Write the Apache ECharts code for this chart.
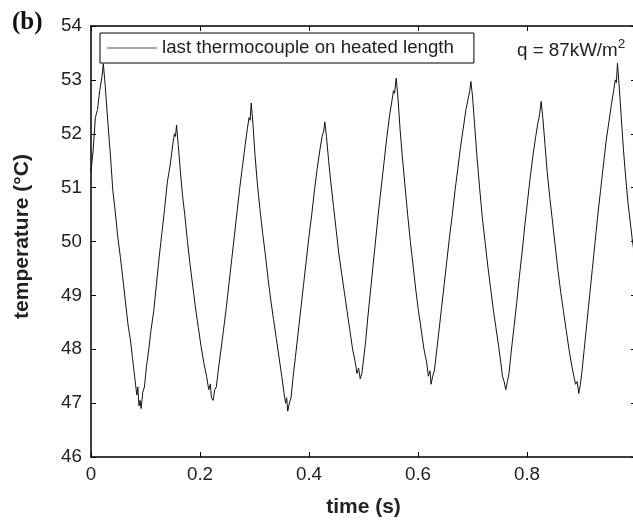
<!DOCTYPE html>
<html>
<head>
<meta charset="utf-8">
<script src="https://cdn.jsdelivr.net/npm/echarts@6/dist/echarts.min.js"></script>
<style>html,body{margin:0;padding:0;background:#fff;}#c{width:633px;height:520px;}</style>
</head>
<body>
<div id="c"></div>
<script>
// time (s)
const times = [
0,0.004,0.008,0.012,0.016,0.020,0.0226,
0.026,0.031,0.036,0.040,0.044,0.049,0.054,0.058,0.063,0.068,0.072,0.076,0.080,0.084,0.086,0.088,0.090,0.092,
0.095,0.098,0.102,0.106,0.110,0.115,0.120,0.125,0.130,0.135,0.140,0.145,0.150,0.153,0.155,0.157,
0.160,0.164,0.168,0.172,0.177,0.182,0.187,0.192,0.197,0.202,0.207,0.212,0.216,0.219,0.221,0.224,0.227,
0.230,0.234,0.238,0.243,0.248,0.253,0.258,0.263,0.268,0.273,0.278,0.283,0.287,0.290,0.292,0.294,
0.297,0.301,0.305,0.310,0.315,0.320,0.325,0.330,0.335,0.340,0.345,0.350,0.354,0.357,0.359,0.361,0.364,
0.367,0.371,0.375,0.380,0.385,0.390,0.395,0.400,0.405,0.410,0.415,0.420,0.424,0.427,0.429,
0.432,0.436,0.440,0.445,0.450,0.455,0.460,0.465,0.470,0.475,0.480,0.485,0.488,0.491,0.494,0.497,
0.500,0.504,0.508,0.513,0.518,0.523,0.528,0.533,0.538,0.543,0.548,0.552,0.555,0.557,0.560,
0.563,0.567,0.571,0.576,0.581,0.586,0.591,0.596,0.601,0.606,0.611,0.616,0.619,0.622,0.624,0.627,
0.630,0.634,0.638,0.643,0.648,0.653,0.658,0.663,0.668,0.673,0.678,0.683,0.688,0.692,0.695,0.697,
0.700,0.704,0.708,0.713,0.718,0.723,0.728,0.733,0.738,0.743,0.748,0.752,0.755,0.758,0.761,0.764,
0.767,0.771,0.776,0.781,0.786,0.791,0.796,0.801,0.806,0.811,0.816,0.820,0.823,0.826,
0.829,0.833,0.837,0.842,0.847,0.852,0.857,0.862,0.867,0.872,0.877,0.882,0.886,0.889,0.892,0.895,0.898,
0.901,0.905,0.910,0.915,0.920,0.925,0.930,0.935,0.940,0.945,0.950,0.955,0.959,0.962,0.964,0.966,
0.969,0.973,0.977,0.981,0.985,0.989,0.993,0.997,1.0
];
// temperature (°C)
const temps = [
51.3,51.7,52.3,52.45,52.8,53.05,53.3,
52.9,52.2,51.55,50.95,50.6,50.1,49.7,49.35,48.9,48.45,48.2,47.85,47.5,47.15,47.3,46.95,47.05,46.9,
47.2,47.3,47.7,48.0,48.35,48.7,49.2,49.7,50.15,50.6,51.1,51.4,51.8,52.0,51.95,52.16,
51.8,51.3,50.85,50.5,50.0,49.55,49.15,48.75,48.4,48.05,47.75,47.5,47.25,47.35,47.1,47.05,47.25,
47.3,47.65,47.95,48.35,48.75,49.2,49.65,50.1,50.55,51.0,51.4,51.8,52.1,52.3,52.25,52.57,
52.2,51.6,51.1,50.6,50.15,49.75,49.3,48.9,48.55,48.2,47.85,47.5,47.2,47.0,47.1,46.85,47.0,
47.1,47.5,47.85,48.3,48.75,49.2,49.65,50.1,50.5,50.95,51.35,51.7,51.95,52.05,52.22,
51.95,51.5,51.1,50.65,50.2,49.75,49.4,49.05,48.7,48.35,48.0,47.75,47.55,47.65,47.45,47.55,
47.8,48.15,48.6,49.1,49.6,50.1,50.6,51.05,51.5,51.95,52.35,52.6,52.8,52.75,53.03,
52.7,52.1,51.6,51.05,50.5,50.0,49.55,49.1,48.7,48.35,48.0,47.75,47.5,47.6,47.35,47.5,
47.6,47.95,48.3,48.75,49.2,49.65,50.1,50.5,50.95,51.35,51.75,52.1,52.45,52.65,52.8,52.97,
52.7,52.15,51.6,51.0,50.45,50.0,49.55,49.15,48.75,48.4,48.05,47.75,47.5,47.4,47.25,47.4,
47.55,47.95,48.4,48.85,49.35,49.8,50.3,50.75,51.2,51.6,51.95,52.2,52.35,52.6,
52.3,51.8,51.3,50.8,50.35,49.9,49.45,49.05,48.7,48.35,48.0,47.7,47.5,47.35,47.4,47.18,47.35,
47.6,48.0,48.5,49.0,49.5,50.0,50.5,50.95,51.4,51.85,52.2,52.55,52.8,53.0,52.95,53.31,
52.9,52.3,51.7,51.2,50.75,50.4,50.05,49.75,49.5
];
const xTickValues = [0, 0.2, 0.4, 0.6, 0.8, 1.0];
const yTickValues = [46, 47, 48, 49, 50, 51, 52, 53, 54];
const seriesName = 'last thermocouple on heated length';

const chart = echarts.init(document.getElementById('c'), null, {renderer: 'canvas'});
const data = times.map((t, i) => [t, temps[i]]);
const font = 'Liberation Sans, Arial, Helvetica, sans-serif';
const axisLineStyle = {color: '#000', width: 1.5};
const tick = {show: true, inside: true, length: 5, lineStyle: {color: '#000', width: 1}};
chart.setOption({
  animation: false,
  backgroundColor: '#fff',
  grid: {left: 91, top: 26, width: 545, height: 431, containLabel: false, outerBoundsMode: 'none'},
  xAxis: [{
    type: 'value', min: 0, max: 1, interval: 0.2, position: 'bottom',
    axisLine: {show: true, onZero: false, lineStyle: axisLineStyle},
    axisTick: tick, splitLine: {show: false},
    axisLabel: {fontSize: 18.8, color: '#222', fontFamily: font, margin: 8,
      formatter: v => (Math.abs(v - 1) < 1e-9 ? '' : String(+v.toFixed(1)))},
    name: 'time (s)', nameLocation: 'middle', nameGap: 40,
    nameTextStyle: {fontSize: 21, fontWeight: 'bold', color: '#222', fontFamily: font}
  }, {
    type: 'value', min: 0, max: 1, interval: 0.2, position: 'top',
    axisLine: {show: true, onZero: false, lineStyle: axisLineStyle},
    axisTick: tick, axisLabel: {show: false}, splitLine: {show: false}
  }],
  yAxis: [{
    type: 'value', min: 46, max: 54, interval: 1, position: 'left',
    axisLine: {show: true, onZero: false, lineStyle: axisLineStyle},
    axisTick: tick, splitLine: {show: false},
    axisLabel: {fontSize: 18.8, color: '#222', fontFamily: font, margin: 9},
    name: 'temperature (\u00B0C)', nameLocation: 'middle', nameGap: 58,
    nameTextStyle: {fontSize: 21, fontWeight: 'bold', color: '#222', fontFamily: font, padding: [0, 0, 0, 10]}
  }, {
    type: 'value', min: 46, max: 54, interval: 1, position: 'right',
    axisLine: {show: true, onZero: false, lineStyle: axisLineStyle},
    axisTick: tick, axisLabel: {show: false}, splitLine: {show: false}
  }],
  legend: {
    show: true, left: 100, top: 33, orient: 'horizontal',
    padding: [5, 20, 5, 7],
    borderColor: '#000', borderWidth: 1, backgroundColor: '#fff',
    itemWidth: 50, itemHeight: 1, icon: 'rect',
    itemStyle: {color: '#555'},
    textStyle: {fontSize: 18.7, color: '#222', fontFamily: font, lineHeight: 20},
    data: [seriesName]
  },
  graphic: [
    {type: 'text', left: 12, top: 10, style: {text: '(b)', font: 'bold 25px "Liberation Serif", "Times New Roman", serif', fill: '#111'}},
    {type: 'text', left: 517, top: 37, style: {
      text: '{a|q = 87kW/m}{s|2}',
      rich: {
        a: {fontSize: 18.8, fontFamily: font, fill: '#222', verticalAlign: 'bottom', lineHeight: 23},
        s: {fontSize: 13.5, fontFamily: font, fill: '#222', verticalAlign: 'top', lineHeight: 23, padding: [0, 0, 8, 0]}
      }
    }}
  ],
  series: [{
    name: seriesName, type: 'line', data: data, xAxisIndex: 0, yAxisIndex: 0,
    showSymbol: false, symbol: 'none', smooth: false,
    lineStyle: {color: '#111', width: 1},
    itemStyle: {color: '#555'}
  }]
});
</script>
</body>
</html>
